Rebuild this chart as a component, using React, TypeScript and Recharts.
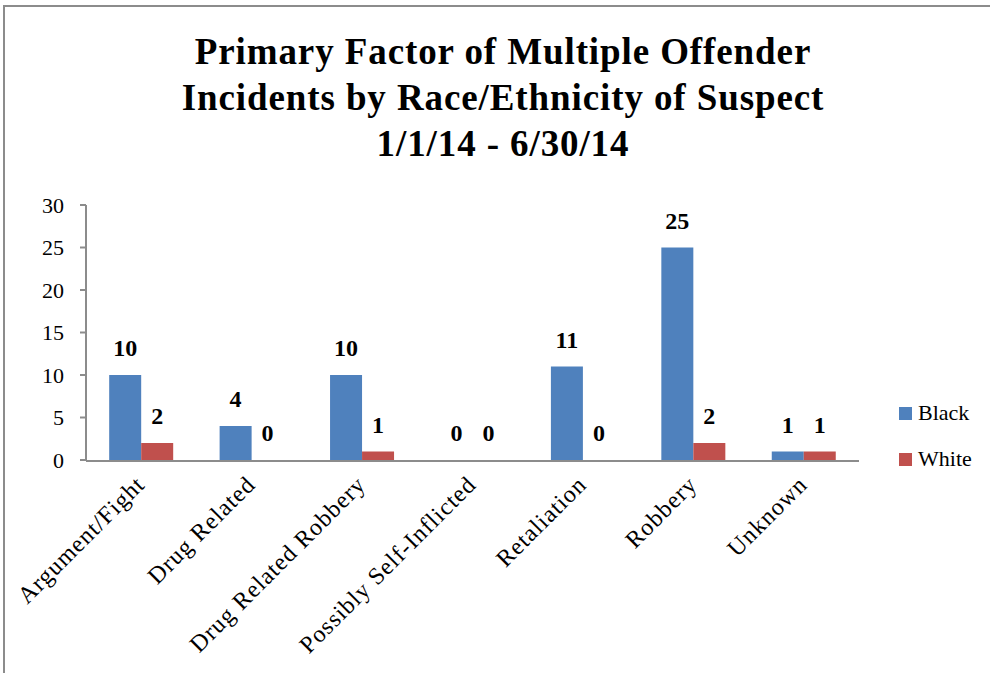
import { BarChart, Bar, XAxis, YAxis, LabelList } from 'recharts'

const categories = [
    'Argument/Fight',
    'Drug Related',
    'Drug Related Robbery',
    'Possibly Self-Inflicted',
    'Retaliation',
    'Robbery',
    'Unknown',
]
const blackCounts = [10, 4, 10, 0, 11, 25, 1]
const whiteCounts = [2, 0, 1, 0, 0, 2, 1]
const yTicks = [0, 5, 10, 15, 20, 25, 30]
const seriesNames = ['Black', 'White']
const seriesColors = ['#4F81BD', '#C0504D']
const titleLines = [
    'Primary Factor of Multiple Offender',
    'Incidents by Race/Ethnicity of Suspect',
    '1/1/14 - 6/30/14',
]

const font = 'Liberation Serif, DejaVu Serif, serif'
const axisGray = '#8c8c8c'

const chartData = categories.map((name, i) => ({
    name,
    idx: i + 0.5,
    Black: blackCounts[i],
    White: whiteCounts[i],
}))

// rotated category label, right end sitting just under the category centre
function CategoryTick(props: any) {
    const { x, y, payload } = props
    const ax = x + 5
    const ay = y + 18
    return (
        <text
            x={ax}
            y={ay}
            transform={`rotate(-45 ${ax} ${ay})`}
            textAnchor="end"
            fontFamily={font}
            fontSize={24}
            letterSpacing={1}
            fill="#000"
        >
            {payload.value}
        </text>
    )
}

export default function App() {
    return (
        <div style={{ position: 'fixed', left: 0, top: 0, width: 990, height: 673, background: '#fff', overflow: 'hidden' }}>
            <div
                style={{
                    position: 'absolute',
                    left: 3,
                    top: 5,
                    width: 1100,
                    height: 800,
                    borderLeft: `2px solid ${axisGray}`,
                    borderTop: `2px solid ${axisGray}`,
                }}
            />
            <div
                style={{
                    position: 'absolute',
                    left: 0,
                    top: 29,
                    width: 1006,
                    textAlign: 'center',
                    fontFamily: font,
                    fontWeight: 'bold',
                    fontSize: 37,
                    letterSpacing: 0.9,
                    lineHeight: '46px',
                    color: '#000',
                }}
            >
                {titleLines.map(t => (
                    <div key={t}>{t}</div>
                ))}
            </div>
            <div style={{ position: 'absolute', left: 0, top: 0 }}>
                <BarChart
                    width={990}
                    height={673}
                    data={chartData}
                    margin={{ top: 205, right: 131, bottom: 211, left: 26 }}
                    barCategoryGap="21%"
                    barGap={0}
                >
                    <XAxis
                        xAxisId="edge"
                        type="number"
                        dataKey="idx"
                        domain={[0, 7]}
                        ticks={[0, 1, 2, 3, 4, 5, 6, 7]}
                        height={1}
                        tick={false}
                        axisLine={{ stroke: axisGray, strokeWidth: 2 }}
                        tickLine={{ stroke: axisGray, strokeWidth: 2 }}
                        tickSize={6}
                    />
                    <XAxis
                        xAxisId="cat"
                        dataKey="name"
                        height={1}
                        axisLine={false}
                        tickLine={false}
                        interval={0}
                        tick={<CategoryTick />}
                    />
                    <YAxis
                        width={60}
                        domain={[0, 30]}
                        ticks={yTicks}
                        interval={0}
                        axisLine={{ stroke: axisGray, strokeWidth: 2 }}
                        tickLine={{ stroke: axisGray, strokeWidth: 2 }}
                        tickSize={6}
                        tickMargin={16}
                        tick={{ fontFamily: font, fontSize: 22, fill: '#000' }}
                    />
                    {seriesNames.map((s, i) => (
                        <Bar
                            key={s}
                            xAxisId="cat"
                            dataKey={s}
                            fill={seriesColors[i]}
                            minPointSize={0.01}
                            isAnimationActive={false}
                        >
                            <LabelList
                                dataKey={s}
                                position="top"
                                offset={19}
                                fontFamily={font}
                                fontWeight="bold"
                                fontSize={24}
                                fill="#000"
                            />
                        </Bar>
                    ))}
                </BarChart>
            </div>
            <div style={{ position: 'absolute', left: 899, top: 390, fontFamily: font, fontSize: 22, color: '#000' }}>
                {seriesNames.map((s, i) => (
                    <div key={s} style={{ display: 'flex', alignItems: 'center', height: 46 }}>
                        <span style={{ display: 'inline-block', width: 13, height: 13, background: seriesColors[i], marginRight: 6 }} />
                        <span>{s}</span>
                    </div>
                ))}
            </div>
        </div>
    )
}
